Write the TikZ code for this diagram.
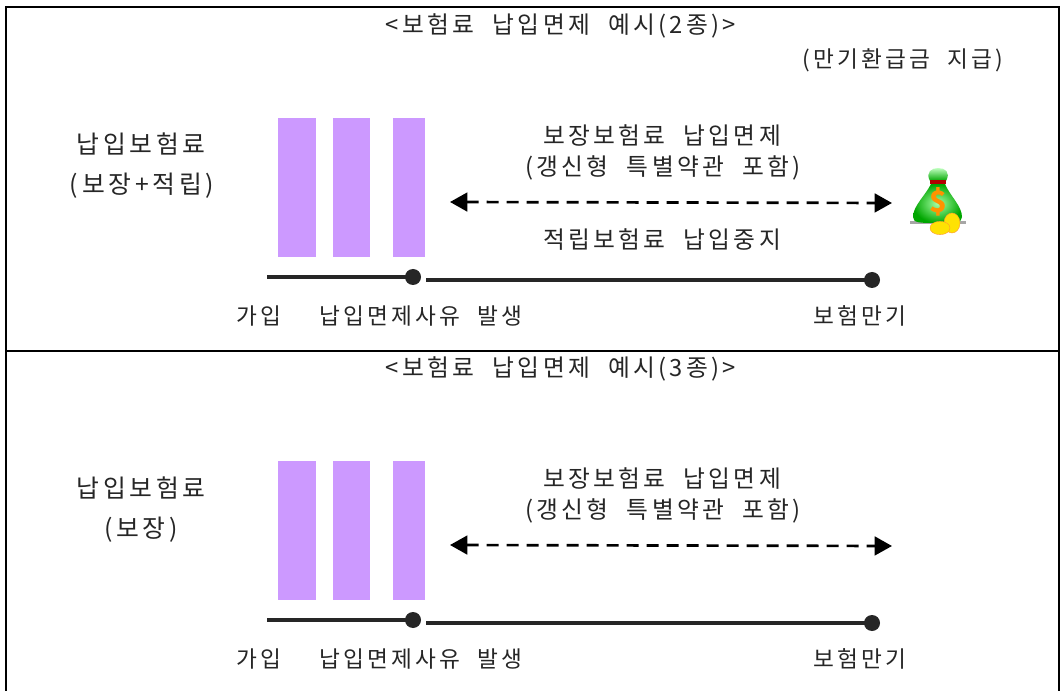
\documentclass[tikz,border=0pt]{standalone}
\usetikzlibrary{arrows.meta}
\usepackage{fontspec}
\setmainfont{Noto Sans CJK KR}[Scale=1.0]
\newfontfamily\krfont{Noto Sans CJK KR}[LetterSpace=14,WordSpace=1.7]
\newfontfamily\krmid{Noto Sans CJK KR}[LetterSpace=14,WordSpace=2.1]
\newfontfamily\krwide{Noto Sans CJK KR}[LetterSpace=15,WordSpace=1.7]
\tikzset{
  frameline/.style={draw=black,line width=1.6pt},
  premiumbar/.style={fill=barpurple,draw=none,minimum height=104.25pt,inner sep=0pt,outer sep=0pt},
  timeline/.style={draw=linedark,line width=3pt},
  timedot/.style={circle,fill=linedark,draw=none,minimum size=12pt,inner sep=0pt},
  spanarrow/.style={draw=black,line width=2pt,dash pattern=on 9pt off 6pt,{Triangle[length=13pt,width=14pt]}-{Triangle[length=13pt,width=14pt]}},
  txt/.style={font=\krfont\fontsize{17}{20}\selectfont,text=black!85,inner sep=0pt,anchor=center},
  midtxt/.style={font=\krmid\fontsize{17.8}{21}\selectfont,text=black!85,inner sep=0pt,anchor=center},
  bigtxt/.style={font=\krwide\fontsize{18.6}{22}\selectfont,text=black!85,inner sep=0pt,anchor=center},
}
\definecolor{barpurple}{HTML}{CC99FF}
\definecolor{linedark}{HTML}{262626}
\begin{document}
\begin{tikzpicture}[x=0.75pt,y=-0.75pt]
\useasboundingbox (0,0) rectangle (1060,691);
\fill[white] (0,0) rectangle (1060,691);
\draw[frameline] (6,691) -- (6,7) -- (1059,7) -- (1059,691);
\draw[frameline] (6,351) -- (1059,351);
% panel 1
\node[midtxt] (title1) at (561,26) {<보험료 납입면제 예시(2종)>};
\node[txt] (mat) at (903,60) {(만기환급금 지급)};
\node[bigtxt] (prem1) at (141,144) {납입보험료};
\node[bigtxt] (kind1) at (142,186) {(보장+적립)};
\node[premiumbar,minimum width=28.5pt] (b11) at (297,187.5) {};
\node[premiumbar,minimum width=27.75pt] (b12) at (351.5,187.5) {};
\node[premiumbar,minimum width=24pt] (b13) at (409,187.5) {};
\node[midtxt] (w1) at (662,136) {보장보험료 납입면제};
\node[midtxt] (w2) at (663,168) {(갱신형 특별약관 포함)};
\node[midtxt] (w3) at (662,240) {적립보험료 납입중지};
\coordinate (as1) at (450,202);
\coordinate (ae1) at (892,203);
\draw[spanarrow] (as1) -- (ae1);
\coordinate (ts1) at (267,277);
\coordinate (tm1) at (426,280);
\node[timedot] (d11) at (413,277) {};
\node[timedot] (d12) at (872,280) {};
\draw[timeline] (ts1) -- (d11.center);
\draw[timeline] (tm1) -- (d12.center);
\node[txt] (l11) at (259,316) {가입};
\node[txt] (l12) at (421,316) {납입면제사유 발생};
\node[txt] (l13) at (860,316) {보험만기};
% money bag
\fill[black!35] (910,221) -- (966,221) -- (966,224) -- (910,224) -- cycle;
\shade[inner color=green!35!white,outer color=green!65!black,shading=radial] (931,184) .. controls (925,196) and (913,206) .. (913,217) .. controls (913,223) and (920,223) .. (937,223) .. controls (955,223) and (962,223) .. (962,217) .. controls (962,206) and (950,196) .. (945,184) -- cycle;
\shade[top color=green!25!white,bottom color=green!65!black] (930,181) .. controls (925,172) and (932,168) .. (938,168) .. controls (945,168) and (951,172) .. (946,181) -- cycle;
\fill[red!70!black] (930,180) rectangle (946,184.5);
\node[font=\bfseries\fontsize{22}{22}\selectfont,text=orange!85!yellow,inner sep=0pt] (dollar) at (938,202) {\$};
\fill[yellow!85!orange,draw=orange!80,line width=0.3pt] (952,223) ellipse (6pt and 7.5pt);
\fill[yellow!85!orange,draw=orange!80,line width=0.3pt] (940,228) ellipse (7.5pt and 5pt);
% panel 2
\node[midtxt] (title2) at (561,369) {<보험료 납입면제 예시(3종)>};
\node[bigtxt] (prem2) at (141,488) {납입보험료};
\node[bigtxt] (kind2) at (141,530) {(보장)};
\node[premiumbar,minimum width=28.5pt] (b21) at (297,530.5) {};
\node[premiumbar,minimum width=27.75pt] (b22) at (351.5,530.5) {};
\node[premiumbar,minimum width=24pt] (b23) at (409,530.5) {};
\node[midtxt] (v1) at (662,479) {보장보험료 납입면제};
\node[midtxt] (v2) at (663,511) {(갱신형 특별약관 포함)};
\coordinate (as2) at (450,545);
\coordinate (ae2) at (892,546);
\draw[spanarrow] (as2) -- (ae2);
\coordinate (ts2) at (267,620);
\coordinate (tm2) at (426,623);
\node[timedot] (d21) at (413,620) {};
\node[timedot] (d22) at (872,623) {};
\draw[timeline] (ts2) -- (d21.center);
\draw[timeline] (tm2) -- (d22.center);
\node[txt] (l21) at (259,659) {가입};
\node[txt] (l22) at (421,659) {납입면제사유 발생};
\node[txt] (l23) at (860,659) {보험만기};
\end{tikzpicture}
\end{document}
